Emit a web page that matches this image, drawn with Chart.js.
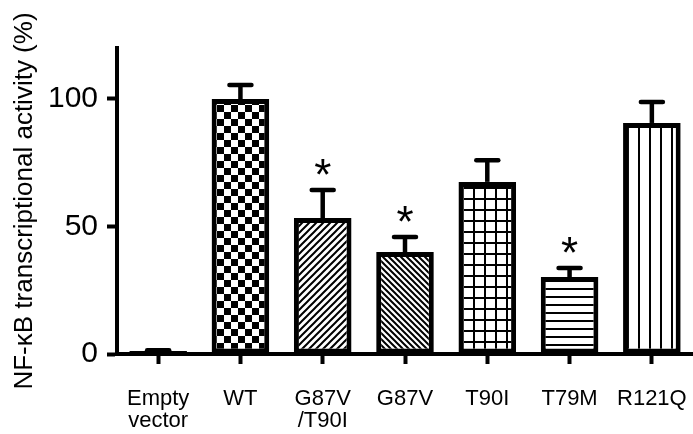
<!DOCTYPE html>
<html>
<head>
<meta charset="utf-8">
<script src="https://cdn.jsdelivr.net/npm/chart.js@4"></script>
<style>
  html, body { margin: 0; padding: 0; background: #fff; }
  canvas { display: block; }
</style>
</head>
<body>
<canvas id="activity-chart" width="693" height="434"></canvas>
<script>
// values
const labels = [['Empty', 'vector'], 'WT', ['G87V', '/T90I'], 'G87V', 'T90I', 'T79M', 'R121Q'];
const activity = [1.2, 100, 53.3, 40, 67.5, 30.2, 90.6];
const errorUp = [0.3, 5.5, 11, 5.9, 8.5, 3.5, 8.2];
const marks = ['', '', '*', '*', '', '*', ''];
const fills = ['solid', 'checker', 'slash', 'backslash', 'grid', 'hlines', 'vlines'];

const FONT = 'Liberation Sans, Arial, sans-serif';

function makePattern(kind) {
    if (kind == 'solid') return '#000';

    const c = document.createElement('canvas');
    var s = 8;
    if (kind == 'checker') s = 14;
    if (kind == 'slash') s = 7;
    if (kind == 'backslash') s = 6;
    if (kind == 'grid') s = 11;
    if (kind == 'hlines') s = 8;
    if (kind == 'vlines') s = 11;
    c.width = s;
    c.height = s;

    const g = c.getContext('2d');
    g.fillStyle = '#fff';
    g.fillRect(0, 0, s, s);
    g.fillStyle = '#000';
    g.strokeStyle = '#000';
    g.lineWidth = 2;

    if (kind == 'checker') {
        g.fillRect(0, 0, s / 2, s / 2);
        g.fillRect(s / 2, s / 2, s / 2, s / 2);
    }
    else if (kind == 'slash') {
        g.beginPath();
        g.moveTo(0, s); g.lineTo(s, 0);
        g.moveTo(-1, 1); g.lineTo(1, -1);
        g.moveTo(s - 1, s + 1); g.lineTo(s + 1, s - 1);
        g.stroke();
    }
    else if (kind == 'backslash') {
        g.beginPath();
        g.moveTo(0, 0); g.lineTo(s, s);
        g.moveTo(s - 1, -1); g.lineTo(s + 1, 1);
        g.moveTo(-1, s - 1); g.lineTo(1, s + 1);
        g.stroke();
    }
    else if (kind == 'grid') {
        g.fillRect(0, 0, 2, s);
        g.fillRect(0, 0, s, 2);
    }
    else if (kind == 'hlines') {
        g.fillRect(0, 0, s, 2);
    }
    else if (kind == 'vlines') {
        g.fillRect(0, 0, 2, s);
    }

    return document.getElementById('activity-chart').getContext('2d').createPattern(c, 'repeat');
}

const errorBars = {
    id: 'errorBars',
    afterDatasetsDraw(chart) {
        const ctx = chart.ctx;
        const y = chart.scales.y;
        const meta = chart.getDatasetMeta(0);

        ctx.save();
        ctx.strokeStyle = '#000';
        ctx.fillStyle = '#000';

        for (var i = 0; i < activity.length; i++) {
            const x = meta.data[i].x;
            const top = y.getPixelForValue(activity[i]);
            const end = y.getPixelForValue(activity[i] + errorUp[i]);

            ctx.lineWidth = 4.5;
            ctx.lineCap = 'butt';
            ctx.beginPath();
            ctx.moveTo(x, top);
            ctx.lineTo(x, end);
            ctx.stroke();

            ctx.lineCap = 'round';
            ctx.beginPath();
            ctx.moveTo(x - 11, end);
            ctx.lineTo(x + 11, end);
            ctx.stroke();

            if (marks[i]) {
                ctx.font = '44px ' + FONT;
                ctx.textAlign = 'center';
                ctx.textBaseline = 'alphabetic';
                const m = ctx.measureText(marks[i]);
                const centre = end - 23;
                ctx.fillText(marks[i], x, centre + (m.actualBoundingBoxAscent - m.actualBoundingBoxDescent) / 2);
            }
        }
        ctx.restore();
    }
};

new Chart(document.getElementById('activity-chart'), {
    type: 'bar',
    data: {
        labels: labels,
        datasets: [{
            data: activity,
            backgroundColor: fills.map(makePattern),
            borderColor: '#000',
            borderWidth: 5,
            borderSkipped: false,
            categoryPercentage: 1,
            barPercentage: 0.7
        }]
    },
    options: {
        responsive: false,
        animation: false,
        layout: { padding: { top: 48, left: 0, right: 0, bottom: 0 } },
        plugins: {
            legend: { display: false },
            tooltip: { enabled: false }
        },
        scales: {
            x: {
                grid: {
                    drawOnChartArea: false,
                    offset: false,
                    tickLength: 10,
                    tickWidth: 4,
                    tickColor: '#000'
                },
                border: { width: 4, color: '#000' },
                ticks: {
                    color: '#000',
                    font: { family: FONT, size: 22, lineHeight: 1.0 },
                    padding: 24,
                    maxRotation: 0,
                    autoSkip: false
                },
                afterFit(scale) {
                    scale.height = 80;
                    scale.paddingLeft = 0;
                    scale.paddingRight = 0;
                }
            },
            y: {
                min: 0,
                max: 120,
                grid: {
                    drawOnChartArea: false,
                    tickLength: 10,
                    tickWidth: 4,
                    tickColor: '#000'
                },
                border: { width: 4, color: '#000' },
                ticks: {
                    stepSize: 50,
                    includeBounds: false,
                    color: '#000',
                    font: { family: FONT, size: 30 },
                    padding: 9
                },
                title: {
                    display: true,
                    text: 'NF-\u03baB transcriptional activity (%)',
                    color: '#000',
                    font: { family: FONT, size: 26 },
                    padding: { top: 9, bottom: 0 }
                },
                afterFit(scale) {
                    scale.width = 117;
                    scale.paddingTop = 0;
                    scale.paddingBottom = 0;
                }
            }
        }
    },
    plugins: [errorBars]
});
</script>
</body>
</html>
